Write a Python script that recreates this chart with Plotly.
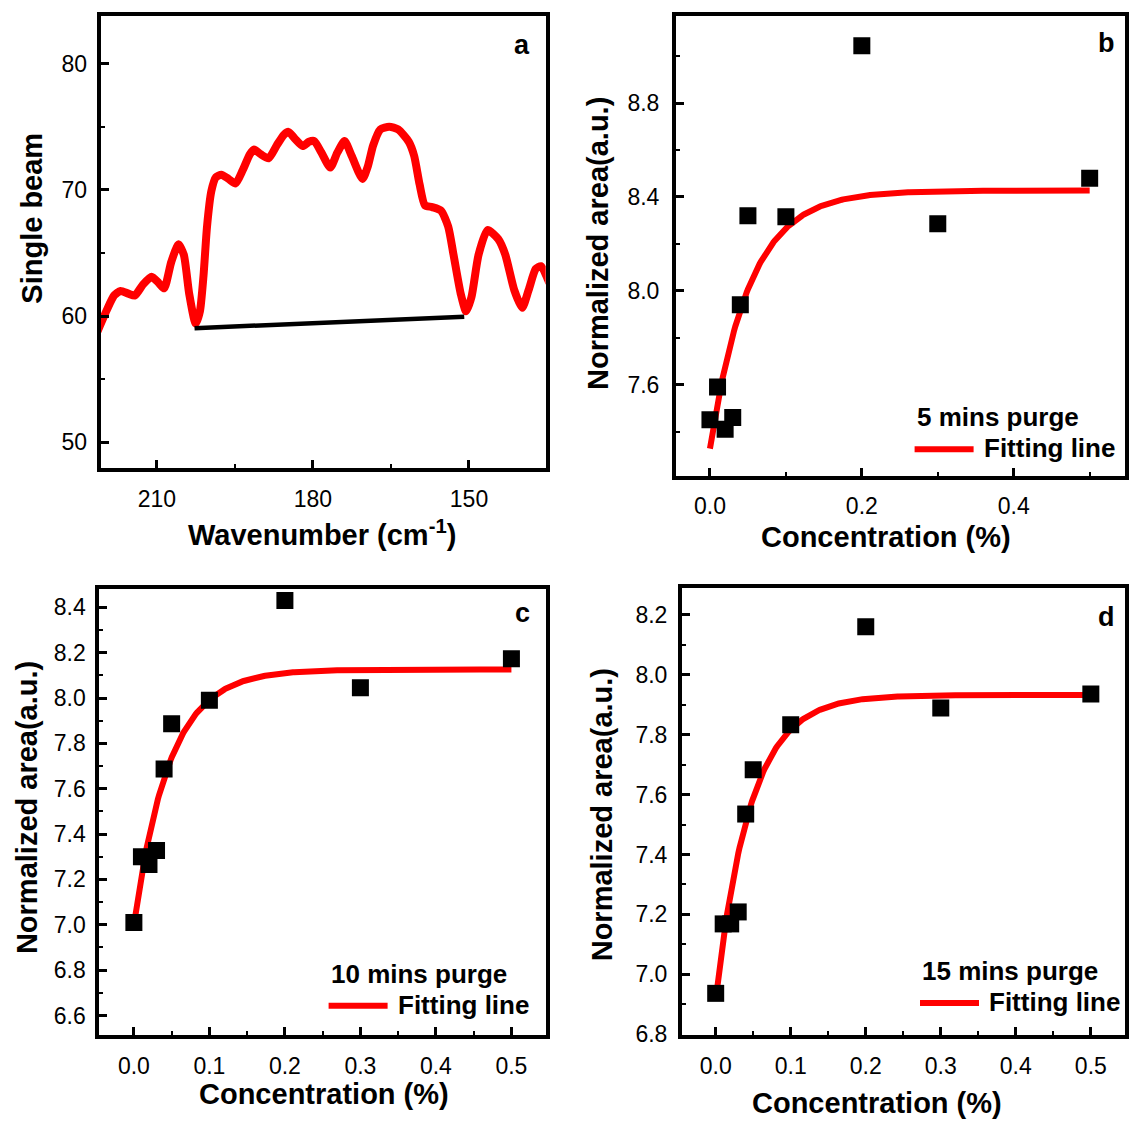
import plotly.graph_objects as go
import numpy as np

# ---------------- panel a: single-beam spectrum ----------------
wavenumber = [221.65, 219.59, 218.21, 216.98, 215.47, 214.23, 212.72, 211.0, 209.63, 208.6,
              207.23, 205.85, 204.82, 203.79, 202.55, 201.73, 201.04, 200.36, 199.53, 198.64,
              197.61, 196.24, 194.86, 193.49, 192.12, 191.29, 190.05, 188.54, 186.96, 185.59,
              184.70, 183.53, 181.95, 180.78, 179.75, 178.38, 176.66, 175.29, 173.91, 172.54,
              170.48, 169.45, 168.42, 167.05, 165.33, 163.62, 161.56, 160.53, 159.50, 158.47,
              157.09, 155.38, 154.0, 152.97, 151.59, 150.56, 149.53, 148.16, 146.44, 144.38,
              143.01, 141.29, 139.78, 138.54, 137.17, 136.14, 135.11, 134.56]
single_beam = [58.55, 60.51, 61.63, 61.99, 61.77, 61.63, 62.47, 63.11, 62.61, 62.19,
               64.29, 65.69, 64.85, 61.77, 59.39, 60.37, 63.17, 67.09, 69.89, 71.0,
               71.20, 70.87, 70.50, 71.56, 72.82, 73.19, 72.82, 72.49, 73.52, 74.36,
               74.59, 74.08, 73.47, 73.80, 73.86, 72.96, 71.76, 72.96, 73.86, 72.68,
               70.86, 71.84, 73.52, 74.78, 75.0, 74.78, 73.80, 72.68, 70.44, 68.77,
               68.63, 68.35, 67.09, 64.85, 61.77, 60.37, 61.49, 64.85, 66.81, 66.10,
               64.85, 62.05, 60.65, 62.05, 63.73, 63.95, 63.17, 62.61]
baseline_x = [202.76, 150.91]
baseline_y = [59.03, 59.95]

# ---------------- panels b-d: normalized area vs concentration ----------------
concentration = [0.0, 0.01, 0.02, 0.03, 0.04, 0.05, 0.1, 0.2, 0.3, 0.5]
area_5min = [7.45, 7.59, 7.41, 7.46, 7.94, 8.32, 8.316, 9.044, 8.286, 8.48]
area_10min = [7.01, 7.30, 7.266, 7.328, 7.687, 7.886, 7.99, 8.43, 8.045, 8.173]
area_15min = [6.936, 7.168, 7.168, 7.208, 7.535, 7.683, 7.833, 8.161, 7.889, 7.936]

# exponential fit parameters y = y_inf - amp * exp(-x / tau)
fit_5min = dict(y_inf=8.427, amp=1.10, tau=0.052)
fit_10min = dict(y_inf=8.126, amp=1.126, tau=0.047)
fit_15min = dict(y_inf=7.933, amp=1.018, tau=0.046)

purge_labels = ["5 mins purge", "10 mins purge", "15 mins purge"]

FONT = "Liberation Sans, Arial, sans-serif"
W, H = 1131, 1137


def fit_curve(p):
    xs = np.linspace(concentration[0], concentration[-1], 300)
    return xs, p["y_inf"] - p["amp"] * np.exp(-xs / p["tau"])


fig = go.Figure()

fig.add_trace(go.Scatter(x=wavenumber, y=single_beam, mode="lines",
                         line=dict(color="#ff0000", width=8, shape="spline", smoothing=0.6),
                         xaxis="x", yaxis="y", showlegend=False))
fig.add_trace(go.Scatter(x=baseline_x, y=baseline_y, mode="lines",
                         line=dict(color="black", width=4.5),
                         xaxis="x", yaxis="y", showlegend=False))

for k, (vals, p) in enumerate([(area_5min, fit_5min), (area_10min, fit_10min),
                               (area_15min, fit_15min)], start=2):
    fx, fy = fit_curve(p)
    fig.add_trace(go.Scatter(x=fx, y=fy, mode="lines",
                             line=dict(color="#ff0000", width=6),
                             xaxis=f"x{k}", yaxis=f"y{k}", showlegend=False))
    fig.add_trace(go.Scatter(x=concentration, y=vals, mode="markers",
                             marker=dict(symbol="square", size=17, color="black"),
                             xaxis=f"x{k}", yaxis=f"y{k}", showlegend=False))


def px_x(v):
    return v / W


def px_y(v):
    return 1 - v / H


def axis_style(domain, rng, dtick, minor_dtick, fmt, anchor, standoff):
    return dict(domain=domain, range=rng, dtick=dtick, tick0=0, anchor=anchor,
                showline=True, linewidth=4, linecolor="black", mirror=True,
                ticks="inside", ticklen=8, tickwidth=3, tickcolor="black",
                minor=dict(dtick=minor_dtick, tick0=0, ticks="inside", ticklen=4,
                           tickwidth=2, tickcolor="black"),
                tickformat=fmt, showgrid=False, zeroline=False,
                ticklabelstandoff=standoff,
                tickfont=dict(family=FONT, size=23, color="black"))


layout_axes = {
    "xaxis": axis_style([px_x(100.7), px_x(545.7)], [220.8, 135.25], 30, 15, "d", "y", 7),
    "yaxis": axis_style([px_y(473), px_y(16.4)], [47.96, 83.75], 10, 5, "d", "x", 5),
    "xaxis2": axis_style([px_x(676), px_x(1124.6)], [-0.0447, 0.546], 0.2, 0.1, ".1f", "y2", 6),
    "yaxis2": axis_style([px_y(481.4), px_y(16)], [7.209, 9.172], 0.4, 0.2, ".1f", "x2", 8),
    "xaxis3": axis_style([px_x(99.3), px_x(545.7)], [-0.0458, 0.5454], 0.1, 0.05, ".1f", "y3", 7),
    "yaxis3": axis_style([px_y(1046), px_y(595)], [6.514, 8.482], 0.2, 0.1, ".1f", "x3", 5),
    "xaxis4": axis_style([px_x(682), px_x(1124.6)], [-0.0449, 0.545], 0.1, 0.05, ".1f", "y4", 7),
    "yaxis4": axis_style([px_y(1046), px_y(594.3)], [6.797, 8.29], 0.2, 0.1, ".1f", "x4", 6),
}

annotations = []
shapes = []


def text(x, y, s, size, bold=True, xanchor="center", angle=0):
    annotations.append(dict(x=px_x(x), y=px_y(y), xref="paper", yref="paper", text=s,
                            showarrow=False, xanchor=xanchor, yanchor="middle",
                            textangle=angle,
                            font=dict(family=FONT, size=size, color="black",
                                      weight="bold" if bold else "normal")))


# axis titles
text(32, 221, "Single beam", 29, angle=-90)
text(322, 539, "Wavenumber (cm<sup>-1</sup>)", 29)
text(598.6, 246, "Normalized area(a.u.)", 29, angle=-90)
text(886, 543, "Concentration (%)", 29)
text(27.7, 816, "Normalized area(a.u.)", 29, angle=-90)
text(323.5, 1106, "Concentration (%)", 29)
text(602, 824, "Normalized area(a.u.)", 29, angle=-90)
text(876.6, 1115, "Concentration (%)", 29)

# panel letters
text(522, 45, "a", 27)
text(1106, 43, "b", 27)
text(522, 620, "c", 27)
text(1106, 624, "d", 27)

# legend blocks: purge label, red sample line, "Fitting line"
legend_pos = [(914.6, 421, 454), (328.6, 984, 1016.4), (920, 981, 1013.6)]
for lbl, (lx, ty, ly) in zip(purge_labels, legend_pos):
    text(lx, ty, lbl, 26, xanchor="left")
    shapes.append(dict(type="line", xref="paper", yref="paper",
                       x0=px_x(lx), x1=px_x(lx + 59), y0=px_y(ly), y1=px_y(ly),
                       line=dict(color="#ff0000", width=6)))
    text(lx + 67, ly - 1, "Fitting line", 26, xanchor="left")

fig.update_layout(width=W, height=H, margin=dict(l=0, r=0, t=0, b=0),
                  paper_bgcolor="white", plot_bgcolor="white",
                  annotations=annotations, shapes=shapes, showlegend=False,
                  **layout_axes)

fig.write_html("out.html")
